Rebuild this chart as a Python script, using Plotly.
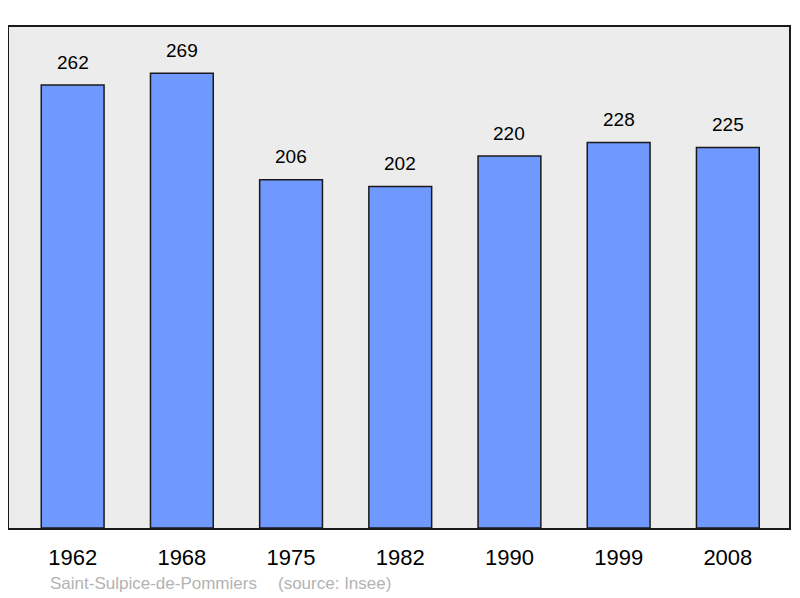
import plotly.graph_objects as go

years = ["1962", "1968", "1975", "1982", "1990", "1999", "2008"]
population = [262, 269, 206, 202, 220, 228, 225]
commune = "Saint-Sulpice-de-Pommiers"
source = "(source: Insee)"

idx = list(range(len(years)))

# page body has an 8px margin; figure sized to fit the window
OFF = 8
W, H = 784, 590
ml, mt = 9 - OFF, 27 - OFF
pw, ph = 782, 501
mr = W - ml - pw
mb = H - mt - ph

fig = go.Figure()
fig.add_trace(go.Bar(
    x=idx, y=population, width=0.575,
    marker=dict(color="#7099ff", line=dict(color="#1a1a1a", width=1.5)),
    hoverinfo="skip",
))

annotations = []
for i, v in zip(idx, population):
    annotations.append(dict(x=i, y=v, xref="x", yref="y", text=str(v), showarrow=False,
                            yanchor="middle", yshift=23,
                            font=dict(family="Liberation Sans, Arial", size=19, color="#000")))


def paper_x(px):
    return (px - OFF - ml) / pw


def paper_y(py):
    return (mt + ph - (py - OFF)) / ph


annotations.append(dict(x=paper_x(48), y=paper_y(583), xref="paper", yref="paper", text=commune,
                        showarrow=False, xanchor="left", yanchor="middle",
                        font=dict(family="Liberation Sans, Arial", size=17, color="#b3b3b3")))
annotations.append(dict(x=paper_x(277), y=paper_y(583), xref="paper", yref="paper", text=source,
                        showarrow=False, xanchor="left", yanchor="middle",
                        font=dict(family="Liberation Sans, Arial", size=17, color="#b3b3b3")))

fig.update_layout(
    width=W, height=H,
    margin=dict(l=ml, r=mr, t=mt, b=mb, pad=0),
    paper_bgcolor="white", plot_bgcolor="#ececec",
    showlegend=False,
    annotations=annotations,
    xaxis=dict(range=[-0.583, 6.560], tickmode="array", tickvals=idx, ticktext=years,
               showgrid=False, zeroline=False, showline=True, mirror=True,
               linecolor="#1a1a1a", linewidth=2, ticks="", ticklabelstandoff=9,
               tickfont=dict(family="Liberation Sans, Arial", size=22, color="#000")),
    yaxis=dict(range=[0, 296.3], showgrid=False, zeroline=False, showline=True, mirror=True,
               linecolor="#1a1a1a", linewidth=2, showticklabels=False, ticks=""),
)
fig.write_html("out.html")
